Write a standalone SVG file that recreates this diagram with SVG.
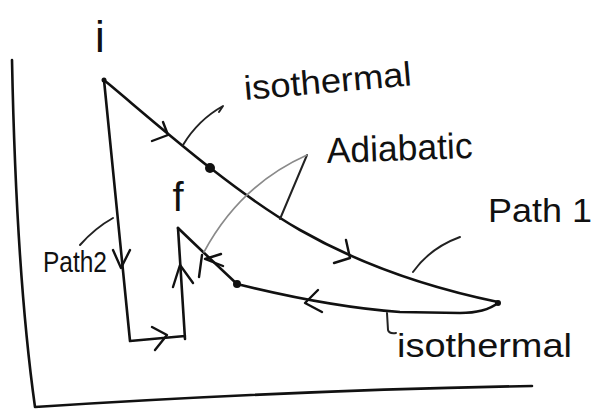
<svg xmlns="http://www.w3.org/2000/svg" width="606" height="411" viewBox="0 0 606 411">
<style>
.ln{fill:none;stroke:#111;stroke-width:2.6;stroke-linecap:round;stroke-linejoin:round}
.thin{fill:none;stroke:#222;stroke-width:2;stroke-linecap:round;stroke-linejoin:round}
.grey{fill:none;stroke:#8a8a8a;stroke-width:1.6;stroke-linecap:round}
.ar{fill:none;stroke:#111;stroke-width:2.4;stroke-linecap:round;stroke-linejoin:round}
.tx{font-family:"Liberation Sans","DejaVu Sans",sans-serif;fill:#111}
.dot{fill:#111}
</style>
<rect width="606" height="411" fill="#fff"/>
<g id="axes">
<path class="ln" stroke-width="3" d="M12,60 C14,160 20,300 35,407 Q300,390 532,386"/>
</g>
<g id="connectors">
<path class="ln" d="M104,80 C150,118 230,190 300,230 S440,290 498,302"/>
<path class="ln" d="M498,303 Q485,313 460,313 L400,312 Q330,307 237,284"/>
<path class="ln" d="M237,284 Q205,254 178,228"/>
<path class="ln" d="M104,80 L130,341 L185,336 M185,339 L178,228"/>
<path class="ar" d="M152,141 L168,135 L163,122"/>
<path class="ar" d="M346,240 L350,258 L334,263"/>
<path class="ar" d="M318,290 L305,303 L322,312"/>
<path class="ar" d="M113,250 L121,268 L130,250"/>
<path class="ar" d="M173,287 L180,265 L193,283"/>
<path class="ar" d="M152,327 L167,335 L155,350"/>
<path class="ar" stroke-width="5" d="M202,255 L199,277"/>
<path class="ar" stroke-width="3" d="M221,254 L205,259 L223,266"/>
<path class="thin" d="M183,145 Q198,120 223,106 L219,112"/>
<path class="thin" d="M280,219 L307,155"/>
<path class="grey" d="M307,155 Q240,185 204,252"/>
<path class="thin" d="M413,272 Q430,248 460,237"/>
<path class="thin" d="M80,245 Q95,228 113,218"/>
<path class="thin" d="M387,313 L388,330 Q389,334 396,333"/>
</g>
<g id="node-i">
<circle class="dot" cx="104" cy="80" r="2.5"/>
<text class="tx" x="100" y="52" font-size="44" text-anchor="middle">i</text>
</g>
<g id="node-f">
<text class="tx" x="178" y="211" font-size="40" text-anchor="middle">f</text>
</g>
<g id="node-points">
<circle class="dot" cx="210" cy="168" r="5"/>
<circle class="dot" cx="237" cy="284" r="4"/>
<circle class="dot" cx="498" cy="303" r="3"/>
</g>
<g id="labels">
<text class="tx" x="245" y="100" font-size="34" textLength="168" lengthAdjust="spacingAndGlyphs" transform="rotate(-5 245 100)">isothermal</text>
<text class="tx" x="327" y="163" font-size="36" textLength="146" lengthAdjust="spacingAndGlyphs" transform="rotate(-2 327 163)">Adiabatic</text>
<text class="tx" x="488" y="222" font-size="34" textLength="104" lengthAdjust="spacingAndGlyphs">Path 1</text>
<text class="tx" x="43" y="272" font-size="30" textLength="64" lengthAdjust="spacingAndGlyphs">Path2</text>
<text class="tx" x="397" y="357" font-size="34" textLength="175" lengthAdjust="spacingAndGlyphs">isothermal</text>
</g>
</svg>
